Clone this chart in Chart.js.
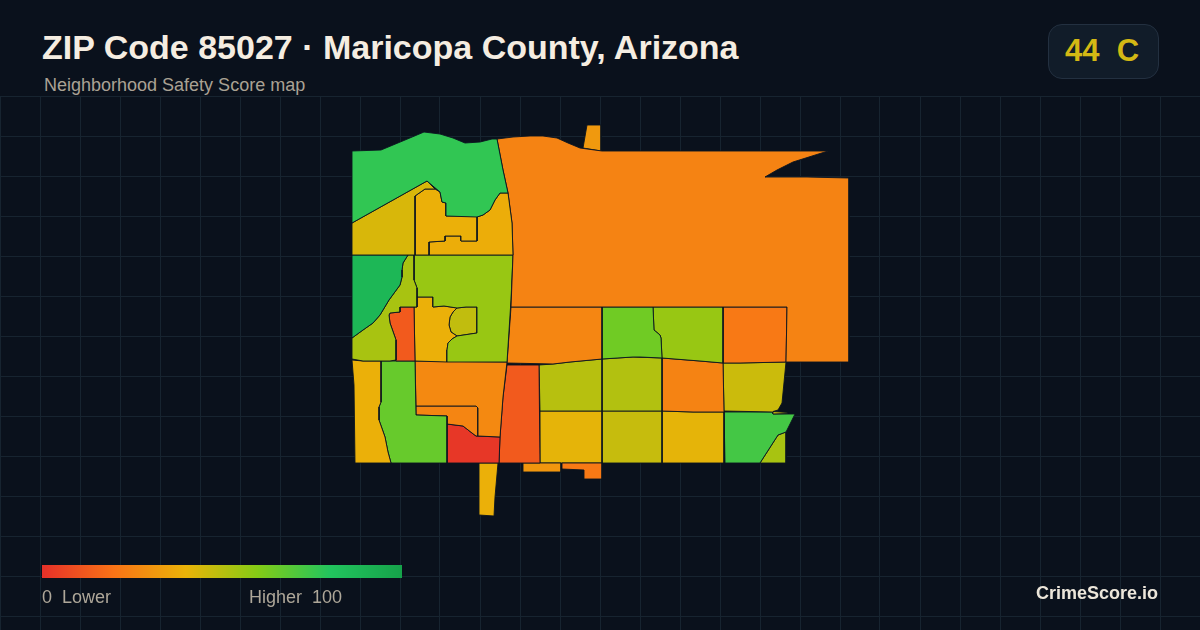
<!DOCTYPE html>
<html><head><meta charset="utf-8">
<style>
html,body{margin:0;padding:0;background:#0a111c;width:1200px;height:630px;overflow:hidden;font-family:"Liberation Sans",Arial,sans-serif}
#c{position:absolute;left:0;top:96px}
.t{position:absolute;white-space:pre}
#title{left:42px;top:27px;font-size:34px;font-weight:700;color:#f5ede1;line-height:40px}
#sub{left:44px;top:74px;font-size:18px;color:#aaa294;line-height:22px}
#badge{position:absolute;left:1048px;top:24px;width:109px;height:53px;border:1px solid #233040;border-radius:14px;background:#111c29}
#score{left:1065px;top:33px;font-size:31px;font-weight:700;color:#d4b814;line-height:36px}
#bar{position:absolute;left:42px;top:565px;width:360px;height:13px;background:linear-gradient(90deg,#e53029,#f97316 20%,#eab308 40%,#84cc16 60%,#22c55e 80%,#16a34a)}
.l{top:586px;font-size:18px;color:#aea799;line-height:22px}
#brand{left:1036px;top:582px;font-size:18px;font-weight:700;color:#ece6da;line-height:22px}
</style></head><body>
<canvas id="c" width="1200" height="534"></canvas>
<div class="t" id="title">ZIP Code 85027 · Maricopa County, Arizona</div>
<div class="t" id="sub">Neighborhood Safety Score map</div>
<div id="badge"></div><div class="t" id="score">44  C</div>
<div id="bar"></div>
<div class="t l" style="left:42px">0  Lower</div>
<div class="t l" style="left:249px">Higher  100</div>
<div class="t" id="brand">CrimeScore.io</div>
<script src="https://cdn.jsdelivr.net/npm/chart.js@4"></script>
<script>
const rampStops=[0,20,40,60,80,100];
const rampColors=[[229,48,41],[249,115,22],[234,179,8],[132,204,22],[34,197,94],[22,163,74]];
const gridX=[0,40,80,120,160,200,240,280,320,360,400,440,480,520,560,600,640,680,720,760,800,840,880,920,960,1000,1040,1080,1120,1160,1200];
const gridY=[96,136,176,216,256,296,336,376,416,456,496,536,576,616];

const northGreen=[[352,151],[381,150],[405,140],[424,132],[440,134],[453,138],[465,143],[480,142],[492,139],[497,139],[503,170],[508,193],[500,193],[495,200],[490,210],[483,215],[477,217],[446,216],[446,203],[442,202],[440,192],[427,181],[352,223]];
const westYellow=[[352,223],[427,181],[435,189],[425,189],[415,196],[415,255],[352,255]];
const centerAmber=[[415,196],[425,189],[435,189],[440,192],[442,202],[446,203],[446,216],[477,216],[477,241],[461,241],[461,236],[445,236],[445,241],[429,242],[429,255],[415,255]];
const eastAmber=[[477,217],[483,215],[490,210],[495,200],[500,193],[508,193],[512,223],[513,255],[429,255],[429,242],[445,241],[445,236],[461,236],[461,241],[477,241]];
const bigOrange=[[497,139],[513,137],[530,136],[543,136],[557,138],[568,143],[580,148],[602,151],[700,151],[828,151],[793,162],[777,170],[765,177],[807,177],[849,178],[849,362],[786,362],[787,307],[511,307],[513,255],[512,223],[508,193],[503,170]];
const northTab=[[587,125],[601,125],[601,151],[583,148]];
const darkGreen=[[352,255],[408,255],[403,263],[402,270],[402,277],[400,285],[389,300],[380,315],[373,323],[363,330],[352,338]];
const limeWest=[[408,255],[414,255],[414,280],[417,288],[417,307],[400,307],[400,312],[390,313],[389,315],[390,323],[396,340],[396,360],[390,361],[363,361],[352,359],[352,338],[363,330],[373,323],[380,315],[389,300],[400,285],[402,277],[402,270],[403,263]];
const redOrangeSliver=[[400,307],[414,307],[415,361],[396,361],[396,340],[390,323],[389,315],[390,313],[400,312]];
const limeCenter=[[414,255],[513,255],[511,300],[507,362],[447,362],[447,350],[448,343],[452,339],[457,336],[477,333],[477,322],[477,307],[466,307],[457,308],[444,306],[433,307],[433,297],[417,297],[417,288],[414,280]];
const amberCore=[[417,297],[433,297],[433,307],[444,306],[457,308],[453,312],[450,317],[449,325],[451,332],[457,336],[452,339],[448,343],[447,350],[447,362],[415,361],[414,307],[417,307]];
const yellowPocket=[[457,308],[466,307],[477,307],[477,322],[477,333],[457,336],[451,332],[449,325],[450,317],[453,312]];
const southwestAmber=[[352,360],[363,361],[381,361],[381,402],[379,407],[379,420],[385,437],[388,452],[391,463],[355,463],[354,385]];
const greenWest=[[381,361],[415,361],[416,415],[447,416],[447,463],[391,463],[388,452],[385,437],[379,420],[379,407],[381,402]];
const orangeBlock=[[415,361],[507,362],[503,397],[500,437],[478,436],[478,408],[476,406],[416,406]];
const orangeStrip=[[416,406],[476,406],[478,408],[478,436],[476,436],[472,433],[463,426],[455,425],[447,424],[447,416],[416,415]];
const redBlock=[[447,424],[455,425],[463,426],[472,433],[476,436],[500,437],[499,463],[447,463]];
const redOrangeBlock=[[507,365],[539,365],[540,463],[499,463],[500,437],[503,397]];
const southTail=[[479,463],[498,463],[495,497],[494,516],[479,515]];
const southStripA=[[523,463],[561,463],[561,472],[523,472]];
const southStripB=[[562,463],[602,463],[602,479],[584,479],[584,470],[562,469]];
const row1A=[[511,307],[602,307],[602,359],[570,362],[553,364],[507,363]];
const row1B=[[602,307],[653,307],[654,330],[660,335],[661,338],[662,358],[640,357],[633,357],[602,359]];
const row1C=[[653,307],[723,307],[723,363],[700,361],[662,358],[661,338],[660,335],[654,330]];
const row1D=[[723,307],[787,307],[786,362],[740,363],[723,363]];
const row2A=[[539,365],[553,364],[570,362],[602,359],[602,411],[540,411]];
const row2B=[[602,359],[633,357],[662,358],[662,411],[602,411]];
const row2C=[[662,358],[700,361],[723,363],[724,412],[693,412],[662,411]];
const row2D=[[723,363],[740,363],[786,362],[782,403],[778,410],[773,411.5],[788,412.5],[788,413.5],[773,414],[773,412],[724,411]];
const row3A=[[540,411],[602,411],[602,463],[540,463]];
const row3B=[[602,411],[662,411],[662,438],[662,463],[602,463]];
const row3C=[[662,411],[693,412],[724,412],[724,463],[662,463]];
const row3D=[[724,412],[773,412],[773,414],[795,414],[786,432],[778,435],[760,463],[725,463]];
const row3E=[[786,432],[786,463],[760,463],[778,435]];

const tracts=[northGreen,westYellow,centerAmber,eastAmber,bigOrange,northTab,darkGreen,limeWest,redOrangeSliver,limeCenter,amberCore,yellowPocket,southwestAmber,greenWest,orangeBlock,orangeStrip,redBlock,redOrangeBlock,southTail,southStripA,southStripB,row1A,row1B,row1C,row1D,row2A,row2B,row2C,row2D,row3A,row3B,row3C,row3D,row3E];
const scores=[77,43.5,39,38,25,32,88,53,12.5,56,39,48,39,66,27,25.5,2,12.5,39,31,22,26,64,56,22,50,51,25,46,41,47,41,73,53];

function scoreColor(s){
  let i=0; while(i<rampStops.length-2&&s>rampStops[i+1])i++;
  const t=(s-rampStops[i])/(rampStops[i+1]-rampStops[i]);
  const c=rampColors[i].map((v,k)=>Math.round(v+(rampColors[i+1][k]-v)*t));
  return `rgb(${c[0]},${c[1]},${c[2]})`;
}
new Chart(document.getElementById('c'),{
  type:'scatter',
  data:{datasets:tracts.map((p,i)=>({
    data:[...p,p[0]],showLine:true,fill:'shape',tension:0,
    backgroundColor:scoreColor(scores[i]),borderColor:'#0b1420',borderWidth:0.9,
    pointRadius:0,pointHoverRadius:0,borderJoinStyle:'round'
  }))},
  options:{
    responsive:false,animation:false,events:[],devicePixelRatio:1,
    layout:{padding:0},
    plugins:{legend:{display:false},tooltip:{enabled:false}},
    scales:{
      x:{type:'linear',min:0,max:1200,border:{display:false},
        afterBuildTicks:a=>{a.ticks=gridX.map(v=>({value:v}))},
        grid:{color:'#172430',lineWidth:1,drawTicks:false},ticks:{display:false}},
      y:{type:'linear',min:96,max:630,reverse:true,border:{display:false},
        afterBuildTicks:a=>{a.ticks=gridY.map(v=>({value:v}))},
        grid:{color:'#172430',lineWidth:1,drawTicks:false},ticks:{display:false}}
    }
  }
});
</script>
</body></html>
